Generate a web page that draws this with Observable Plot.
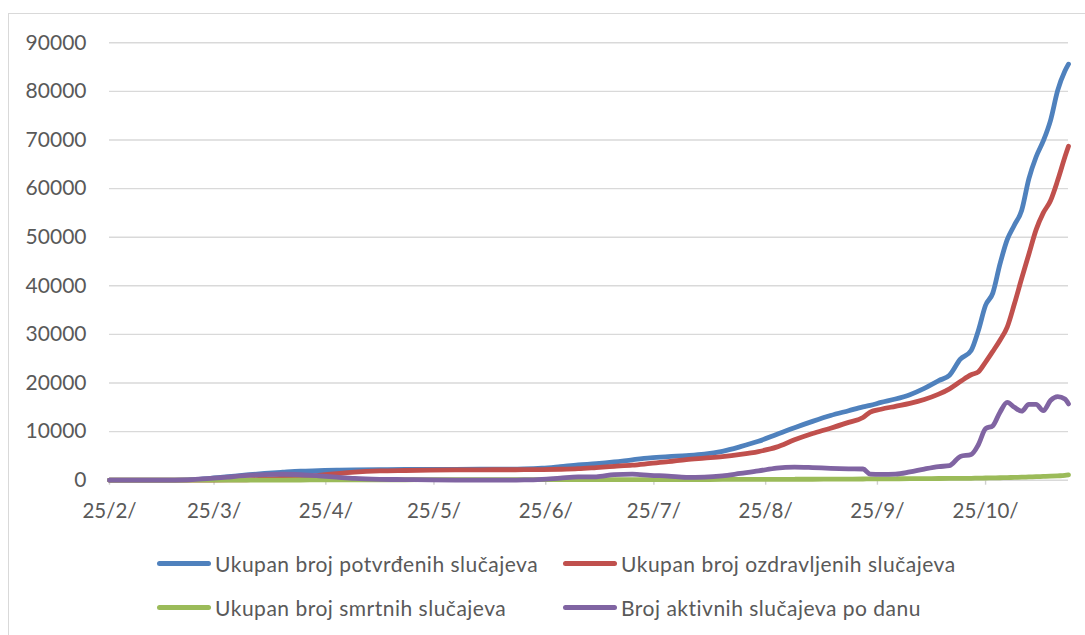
<!DOCTYPE html>
<html><head><meta charset="utf-8">
<script src="https://cdn.jsdelivr.net/npm/d3@7"></script>
<script src="https://cdn.jsdelivr.net/npm/@observablehq/plot@0.6"></script>
<style>
body{margin:0;background:#fff;width:1085px;height:635px;overflow:hidden;position:relative;font-family:Lato,"Open Sans",sans-serif;}
#frame{position:absolute;left:8px;top:13px;width:1200px;height:700px;border-left:1.5px solid #d9d9d9;border-top:1.5px solid #d9d9d9;box-sizing:border-box;}
#chart{position:absolute;left:0;top:0;}
.leg{position:absolute;display:flex;align-items:center;color:#595959;font-size:21px;letter-spacing:0.5px;white-space:nowrap;}
.sw{display:inline-block;width:54px;height:5px;border-radius:3px;margin-right:4px;}
</style></head><body>
<div id="frame"></div>
<div id="chart"></div>
<div id="legend"></div>
<script>
const dates = ["2020-02-25","2020-03-05","2020-03-12","2020-03-19","2020-03-24","2020-03-29","2020-04-03","2020-04-08","2020-04-13","2020-04-18","2020-04-23","2020-04-28","2020-05-03","2020-05-10","2020-05-17","2020-05-24","2020-05-31","2020-06-07","2020-06-14","2020-06-19","2020-06-24","2020-06-29","2020-07-04","2020-07-09","2020-07-14","2020-07-19","2020-07-24","2020-07-29","2020-08-03","2020-08-08","2020-08-13","2020-08-18","2020-08-23","2020-08-28","2020-09-02","2020-09-07","2020-09-12","2020-09-17","2020-09-21","2020-09-23","2020-09-26","2020-09-30","2020-10-04","2020-10-08","2020-10-12","2020-10-15","2020-10-18","2020-10-21","2020-10-23","2020-10-25","2020-10-27","2020-10-29","2020-10-31","2020-11-02","2020-11-04","2020-11-06","2020-11-08","2020-11-10","2020-11-12","2020-11-14","2020-11-16","2020-11-17"];
const confirmed = [0,10,30,130,380,710,1080,1400,1650,1870,1960,2050,2100,2180,2220,2240,2247,2250,2270,2320,2480,2800,3150,3400,3750,4200,4600,4850,5050,5350,5950,6900,8000,9400,10800,12100,13300,14300,15100,15400,16000,16700,17600,18900,20500,21600,24900,26700,30800,36000,38500,44500,49500,52500,55500,62000,66500,69800,74000,80200,84200,85600];
const recovered = [0,0,2,5,20,50,90,220,400,700,1000,1350,1650,1900,2000,2080,2120,2140,2150,2160,2180,2250,2370,2600,2850,3100,3450,3800,4250,4550,4850,5300,5900,6800,8300,9600,10700,11900,12900,14000,14600,15200,15800,16600,17700,18800,20300,21700,22300,24300,26500,28800,31500,36300,41500,46500,51500,55000,57500,61700,66500,68700];
const deaths = [0,0,0,1,2,6,10,20,30,45,55,65,80,90,95,100,103,105,106,107,107,108,111,115,119,122,126,134,140,145,157,163,170,180,190,200,215,235,250,255,275,290,310,330,345,355,375,395,420,450,470,500,540,580,620,670,720,770,830,900,990,1100];
const active = [0,10,28,124,358,654,980,1160,1220,1120,900,630,370,190,125,60,25,10,15,55,190,440,670,690,1150,1250,1000,850,600,650,900,1400,1900,2500,2700,2600,2450,2350,2300,1250,1200,1250,1700,2300,2800,3000,4900,5300,7300,10600,11200,14000,16000,15000,14200,15600,15600,14300,16400,17200,16700,15700];
const seriesNames = ["Ukupan broj potvrđenih slučajeva","Ukupan broj ozdravljenih slučajeva","Ukupan broj smrtnih slučajeva","Broj aktivnih slučajeva po danu"];
const seriesColors = ["#4f81bd","#c0504d","#9bbb59","#8064a2"];
const tickDates = ["2020-02-25","2020-03-25","2020-04-25","2020-05-25","2020-06-25","2020-07-25","2020-08-25","2020-09-25","2020-10-25"];
const tickLabels = ["25/2/","25/3/","25/4/","25/5/","25/6/","25/7/","25/8/","25/9/","25/10/"];
const yTicks = [0,10000,20000,30000,40000,50000,60000,70000,80000,90000];

const parse = d3.utcParse("%Y-%m-%d");
const seriesValues = [confirmed, recovered, deaths, active];
const data = [];
seriesValues.forEach((vals, s) => {
  vals.forEach((v, i) => data.push({date: parse(dates[i]), value: v, series: seriesNames[s]}));
});
const tickObjs = tickDates.map(parse);
const labelMap = new Map(tickObjs.map((d, i) => [+d, tickLabels[i]]));

const plot = Plot.plot({
  width: 1085, height: 540,
  marginLeft: 109, marginRight: 17, marginTop: 42.3, marginBottom: 60.3,
  style: {fontFamily: "Lato, 'Open Sans', sans-serif", fontSize: "20px", color: "#595959", background: "transparent"},
  x: {type: "utc", domain: [parse("2020-02-25"), parse("2020-11-17")], label: null},
  y: {domain: [0, 90000], label: null},
  color: {domain: seriesNames, range: seriesColors},
  marks: [
    Plot.ruleY(yTicks, {stroke: "#d9d9d9", strokeWidth: 1.4, x1: parse("2020-02-25"), x2: parse("2020-11-17")}),
    Plot.axisX({ticks: tickObjs, tickFormat: d => labelMap.get(+d), tickSize: 5, tickPadding: 18, stroke: "#cfcfcf", strokeWidth: 1.4, fill: "#595959", label: null, fontSize: 20.5}),
    Plot.axisY({ticks: yTicks, tickFormat: d3.format("d"), tickSize: 0, tickPadding: 23, fill: "#595959", label: null, fontSize: 21}),
    Plot.line(data, {x: "date", y: "value", z: "series", stroke: "series", strokeWidth: 4.8, curve: "monotone-x", strokeLinecap: "round", strokeLinejoin: "round"})
  ]
});
document.getElementById("chart").appendChild(plot);

const legendPos = [[157, 563], [563, 563], [157, 607], [563, 607]];
const legend = document.getElementById("legend");
seriesNames.forEach((name, i) => {
  const item = document.createElement("div");
  item.className = "leg";
  item.style.left = legendPos[i][0] + "px";
  item.style.top = (legendPos[i][1] - 13) + "px";
  item.style.height = "26px";
  const sw = document.createElement("span");
  sw.className = "sw";
  sw.style.background = seriesColors[i];
  item.appendChild(sw);
  item.appendChild(document.createTextNode(name));
  legend.appendChild(item);
});
</script>
</body></html>
